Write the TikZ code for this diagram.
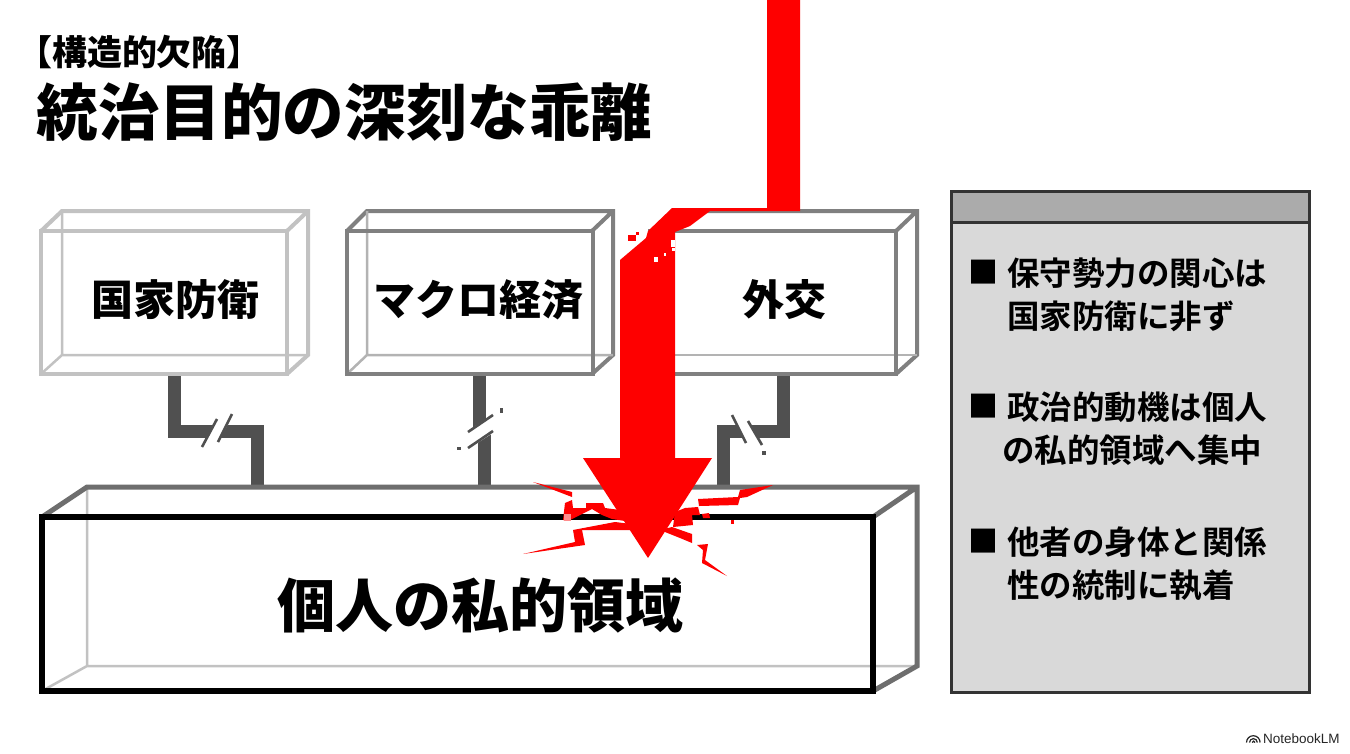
\documentclass[tikz,border=0pt]{standalone}
\usepackage{fontspec}
\usetikzlibrary{calc}
\setmainfont{Noto Sans CJK JP}
\newfontfamily\heavy{Noto Sans CJK JP Black}
\newfontfamily\medi{Noto Sans CJK JP Bold}
\definecolor{redx}{HTML}{FE0000}
\definecolor{lite}{HTML}{C2C2C2}
\definecolor{midg}{HTML}{808080}
\definecolor{dark}{HTML}{505050}
\definecolor{big}{HTML}{6E6E6E}
\tikzset{
 every node/.style={outer sep=0pt,inner sep=0pt},
 frontbox/.style={draw=#1,line width=4pt,minimum width=246pt,minimum height=143pt,font=\heavy\fontsize{42}{42}\selectfont},
 backline/.style={draw=#1,line width=4pt},
 conn/.style={draw=dark,line width=13pt},
 slash/.style={draw=dark,line width=2.6pt},
 gap/.style={fill=white,draw=none},
 bullettext/.style={anchor=north west,align=left,font=\medi\fontsize{32.5}{43}\selectfont},
 bulletmark/.style={font=\medi\fontsize{30}{30}\selectfont},
 crack/.style={fill=redx,draw=none},
}
\begin{document}
\begin{tikzpicture}[x=1pt,y=-1pt]
\useasboundingbox (0,0) rectangle (1350,753);
\fill[white] (0,0) rectangle (1350,753);

% titles
\node[anchor=west,font=\heavy\fontsize{35}{35}\selectfont] (sub) at (17,52) {【構造的欠陥】};
\node[anchor=west,font=\heavy\fontsize{61.6}{62}\selectfont] (ttl) at (36.5,112) {統治目的の深刻な乖離};

% back edges of upper boxes
\draw[backline=lite] (41,231) -- (62,211) -- (308,211) -- (308,355) -- (287,374);
\draw[lite,line width=2.5pt] (62,211) -- (62,355) -- (308,355) (62,355) -- (41,374);
\draw[backline=midg] (347,231) -- (367,211) -- (613,211) -- (613,355) -- (592,374) (592,231) -- (613,211);
\draw[midg!60,line width=2.5pt] (367,211) -- (367,355) -- (613,355) (367,355) -- (347,374);
\draw[backline=midg] (690,211) -- (917,211) -- (917,355) -- (896,374) (896,231) -- (917,211);
\draw[midg!60,line width=2.5pt] (660,355) -- (917,355);
\draw[backline=lite] (287,231) -- (308,211);

% upper boxes
\node[frontbox=lite] (n1) at (164,302.5) {};
\node[font=\heavy\fontsize{42}{42}\selectfont] (l1) at (175,300) {国家防衛};
\node[frontbox=midg] (n2) at (469.5,302.5) {};
\node[font=\heavy\fontsize{42}{42}\selectfont] (l2) at (478.5,300) {マクロ経済};
\node[frontbox=midg] (n3) at (773,302.5) {};
\node[font=\heavy\fontsize{42}{42}\selectfont] (l3) at (784,300) {外交};

% big box back
\draw[lite,line width=2.5pt] (87,487) -- (87,666) -- (917,666) (87,666) -- (42,691);
\coordinate (t1) at (257,487);
\coordinate (t2) at (484,487);
\coordinate (t3) at (723.5,487);

% connectors
\draw[conn] ([xshift=10.5pt,yshift=-2pt]n1.south) |- (257,431) -- (t1);
\draw[conn] ([xshift=9.5pt,yshift=-2pt]n2.south) -- (479,430);
\draw[conn] (484,432) -- (t2);
\draw[conn] ([xshift=10.5pt,yshift=-2pt]n3.south) |- (723.5,431) -- (t3);

% breaks
\fill[gap] (202,447) -- (217,419) -- (235,412) -- (218,442) -- cycle;
\draw[slash] (202,447) -- (217,419);
\draw[slash] (218,442) -- (232,414);
\fill[gap] (466,432) -- (494,414) -- (496,431) -- (468,449) -- cycle;
\draw[slash] (468,432) -- (493,415);
\draw[slash] (468,448) -- (493,431);
\fill[dark] (500,408) rectangle (503,413);
\fill[dark] (457,447) rectangle (461,450);
\fill[gap] (732,415) -- (746,443) -- (762,445) -- (748,421) -- cycle;
\draw[slash] (732,415) -- (746,443);
\draw[slash] (748,421) -- (762,445);
\fill[dark] (762,451) rectangle (766,455);

% big box
\draw[big,line width=5pt] (42,517) -- (87,487) -- (917,487) -- (917,666) -- (873,691) (873,517) -- (917,487);
\node[draw=black,line width=6.5pt,minimum width=831pt,minimum height=174pt] (n4) at (457.5,604) {};
\node[font=\heavy\fontsize{58}{58}\selectfont] (l4) at (480,606) {個人の私的領域};

% red arrow
\fill[redx] (767,0) -- (800,0) -- (800,211) -- (710,211) -- (690,226) -- (675,232) -- (675,458) -- (712,458) -- (648,558) -- (583,458) -- (620,458) -- (620,260) -- (646,238) -- (648,231) -- (672,208) -- (767,208) -- cycle;
\fill[redx] (628,235) rectangle (636,241);
\fill[redx] (636,232) rectangle (639,235);
\fill[white] (654,257) rectangle (658,262);
\fill[white] (664,253) rectangle (666,256);
\fill[white] (672,248) rectangle (675,251);
\fill[white] (671,240) rectangle (675,247);

% cracks
\fill[crack] (533,482) -- (572,492) -- (572,497) -- cycle;
\fill[crack] (565,503) -- (572,500) -- (573,508) -- (586,508) -- (586,503) -- (603,503) -- (605,508) -- (620,510) -- (625,521) -- (612,519) -- (602,515) -- (592,509) -- (586,512) -- (570,520) -- (563,520) -- cycle;
\fill[red!45!white] (564,514) rectangle (571,521);
\fill[crack] (523,554) -- (575,542) -- (573,530) -- (615,522) -- (640,525) -- (630,530) -- (582,530) -- (585,545) -- cycle;
\fill[crack] (773,485) -- (740,490) -- (738,497) -- (698,499) -- (699,506) -- (738,505) -- (740,498) -- (747,497) -- cycle;
\fill[crack] (685,508) -- (698,507) -- (700,515) -- (692,515) -- (693,525) -- (673,527) -- (675,512) -- cycle;
\fill[crack] (702,514) -- (709,513) -- (710,518) -- (703,518) -- cycle;
\fill[crack] (660,530) -- (672,527) -- (692,534) -- (692,543) -- (680,538) -- cycle;
\fill[crack] (697,545) -- (708,544) -- (705,560) -- (727,576) -- (702,563) -- (703,550) -- cycle;
\fill[crack] (731,520) rectangle (734,524);

% panel
\node[draw=black!80,line width=3pt,fill=black!15,minimum width=358pt,minimum height=501pt] (panel) at (1130.5,441.5) {};
\node[draw=black!80,line width=3pt,fill=black!33,minimum width=358pt,minimum height=31pt] (panelhead) at (1130.5,206.5) {};

\node[bulletmark] (b1) at (983,272) {■};
\node[bullettext] (t1a) at (1007,258) {保守勢力の関心は\\国家防衛に非ず};
\node[bulletmark] (b2) at (983,406) {■};
\node[bullettext] (t2a) at (1007,392) {政治的動機は個人\\\hspace*{-5pt}の私的領域へ集中};
\node[bulletmark] (b3) at (983,541) {■};
\node[bullettext] (t3a) at (1007,527) {他者の身体と関係\\性の統制に執着};

% watermark
\draw[black!85,line width=1.2pt] (1246.5,742.5) arc[start angle=180,end angle=360,radius=6.8];
\draw[black!85,line width=1.2pt] (1249.5,742.5) arc[start angle=180,end angle=360,radius=3.9];
\draw[black!85,line width=1.2pt] (1252.2,742.5) arc[start angle=180,end angle=360,radius=1.4];
\node[anchor=west,font=\fontspec{Liberation Sans}\fontsize{13.5}{14}\selectfont,text=black!85] (wm) at (1263,738.5) {NotebookLM};
\end{tikzpicture}
\end{document}
